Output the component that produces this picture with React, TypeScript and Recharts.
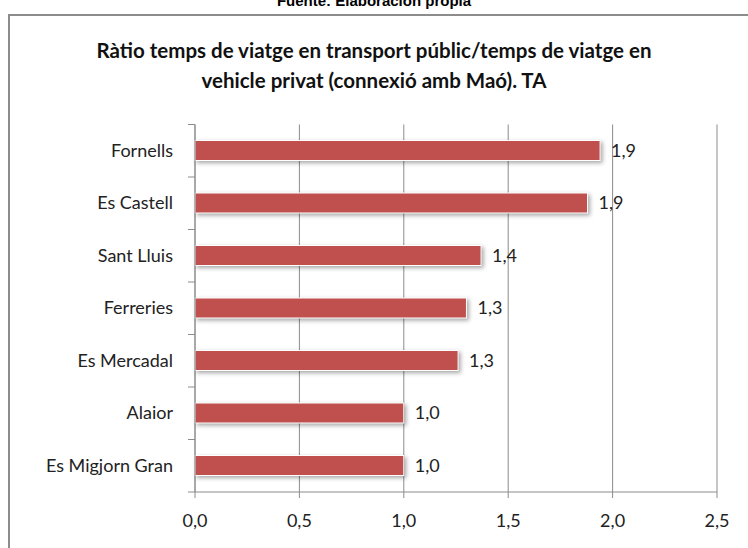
import { BarChart, Bar, XAxis, YAxis, CartesianGrid, LabelList } from "recharts";

const towns = ["Fornells", "Es Castell", "Sant Lluis", "Ferreries", "Es Mercadal", "Alaior", "Es Migjorn Gran"];
const ratios = [1.94, 1.88, 1.37, 1.3, 1.26, 1.0, 1.0];
const xTicks = [0, 0.5, 1, 1.5, 2, 2.5];

const data = towns.map((name, i) => ({ name, value: ratios[i] }));

const FONT = "Lato, 'Liberation Sans', sans-serif";
const fmt = (v: any) => Number(v).toFixed(1).replace(".", ",");

const CategoryTick = (props: any) => {
  const { x, y, payload, index } = props;
  const half = 26.25;
  return (
    <g>
      <text x={x} y={y} dy={6} textAnchor="end" fontSize={18} fill="#222" fontFamily={FONT}>
        {payload.value}
      </text>
      <line x1={x + 15} x2={x + 22} y1={y + half} y2={y + half} stroke="#8c8c8c" />
      {index === 0 && <line x1={x + 15} x2={x + 22} y1={y - half} y2={y - half} stroke="#8c8c8c" />}
    </g>
  );
};

const ShadowBar = (props: any) => {
  const { x, y, width, height } = props;
  return (
    <rect
      x={x}
      y={y}
      width={width}
      height={height}
      fill="#C0504D"
      stroke="#ffffff"
      strokeWidth={1}
      style={{ filter: "drop-shadow(2px 2px 2px rgba(0,0,0,0.35))" }}
    />
  );
};

export default function App() {
  return (
    <div style={{ position: "absolute", left: 0, top: 0, width: 748, height: 548, overflow: "hidden", background: "#fff" }}>
      <div
        style={{
          position: "absolute",
          left: 0,
          width: 748,
          top: -8,
          textAlign: "center",
          fontFamily: "'Liberation Sans', Arial, sans-serif",
          fontWeight: "bold",
          fontSize: 15,
          color: "#000",
        }}
      >
        Fuente: Elaboración propia
      </div>
      <div
        style={{
          position: "absolute",
          left: 8,
          top: 14,
          width: 780,
          height: 600,
          border: "2px solid #8c8c8c",
        }}
      />
      <div
        style={{
          position: "absolute",
          left: 0,
          width: 748,
          top: 35,
          textAlign: "center",
          fontFamily: FONT,
          fontWeight: "bold",
          fontSize: 20.5,
          lineHeight: "30px",
          color: "#111",
        }}
      >
        Ràtio temps de viatge en transport públic/temps de viatge en
        <br />
        vehicle privat (connexió amb Maó). TA
      </div>
      <div style={{ position: "absolute", left: 0, top: 0 }}>
        <BarChart
          width={748}
          height={548}
          data={data}
          layout="vertical"
          margin={{ top: 124.5, right: 31, left: 10, bottom: 26 }}
        >
          <CartesianGrid horizontal={false} stroke="#8c8c8c" />
          <XAxis
            type="number"
            domain={[0, 2.5]}
            ticks={xTicks}
            tickFormatter={fmt}
            stroke="#8c8c8c"
            tickSize={6}
            tickMargin={16}
            height={30}
            tick={{ fontSize: 18, fill: "#222", fontFamily: FONT }}
          />
          <YAxis
            type="category"
            dataKey="name"
            width={185}
            stroke="#8c8c8c"
            tickLine={false}
            tickSize={0}
            tickMargin={22}
            tick={<CategoryTick />}
          />
          <Bar dataKey="value" barSize={20} shape={<ShadowBar />} isAnimationActive={false}>
            <LabelList
              dataKey="value"
              position="right"
              offset={11}
              formatter={fmt}
              fill="#222"
              fontSize={18}
              fontFamily={FONT}
            />
          </Bar>
        </BarChart>
      </div>
    </div>
  );
}
